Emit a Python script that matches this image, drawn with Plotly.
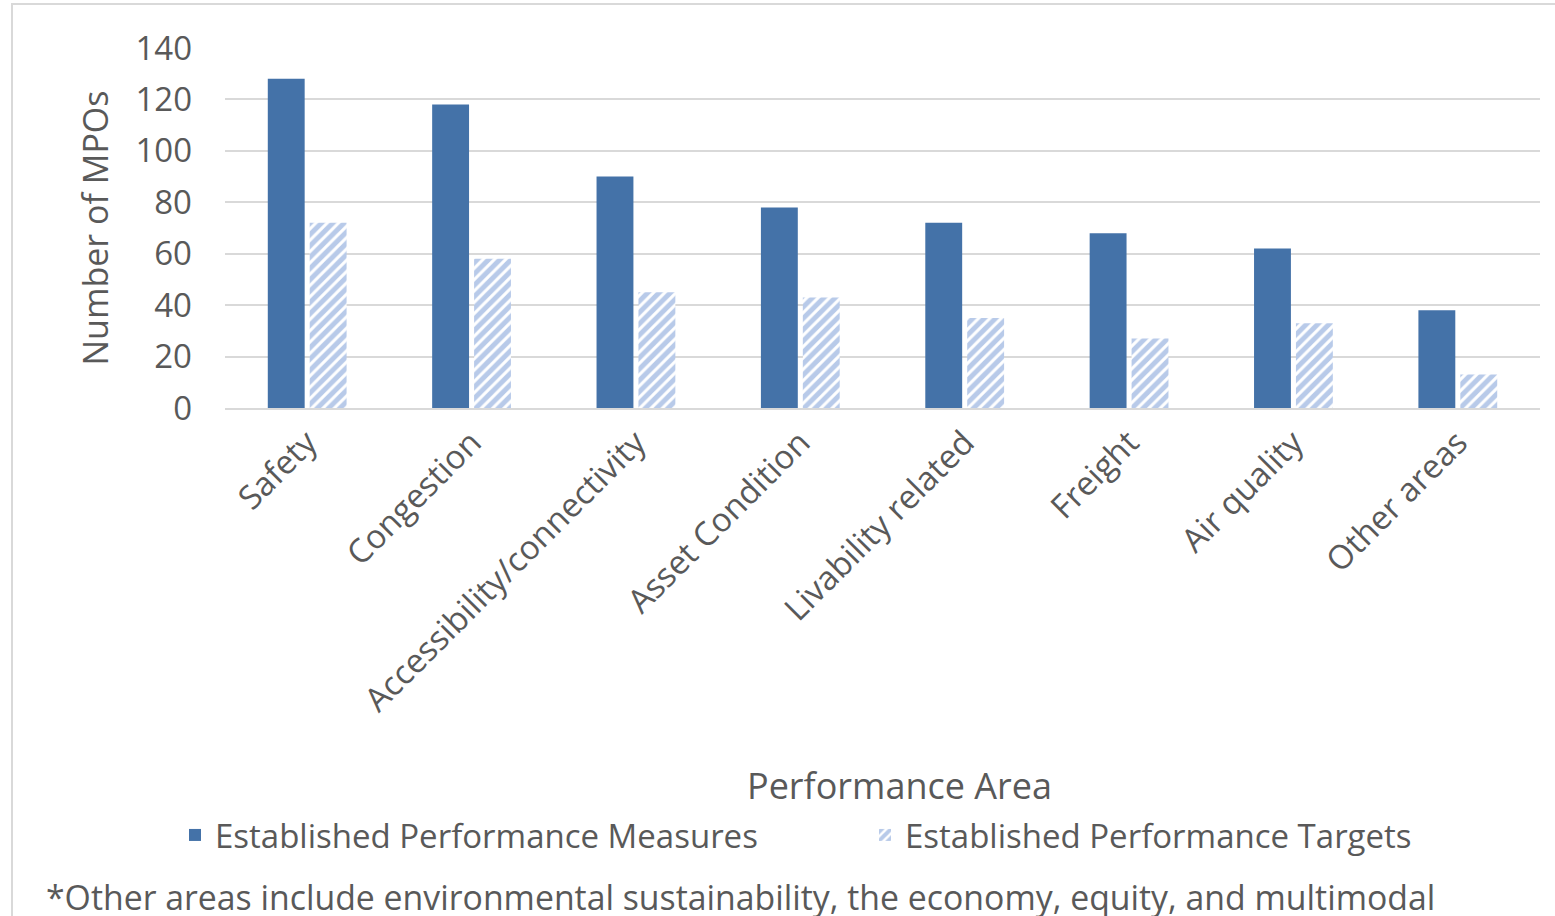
import plotly.graph_objects as go

categories = ["Safety", "Congestion", "Accessibility/connectivity", "Asset Condition",
              "Livability related", "Freight", "Air quality", "Other areas"]
measures = [128, 118, 90, 78, 72, 68, 62, 38]
targets = [72, 58, 45, 43, 35, 27, 33, 13]
y_ticks = [0, 20, 40, 60, 80, 100, 120, 140]

FONT = "Open Sans"
TXT = "#595959"
W, H = 1555, 916
L, R, T, B = 225, 15, 48, 508
pw, ph = W - L - R, H - T - B

def px(xp):
    return (xp - L) / pw

def py(yp):
    return (H - B - yp) / ph

fig = go.Figure()
fig.add_trace(go.Bar(
    x=categories, y=measures, name="Established Performance Measures",
    marker=dict(color="#4472a8", line=dict(width=0)),
))
fig.add_trace(go.Bar(
    x=categories, y=targets, name="Established Performance Targets",
    marker=dict(color="white", line=dict(width=0),
                pattern=dict(shape="/", fgcolor="#7196d3", bgcolor="white",
                             size=8, solidity=0.62)),
))

fig.update_layout(
    width=W, height=H,
    margin=dict(l=L, r=R, t=T, b=B),
    paper_bgcolor="white", plot_bgcolor="white",
    barmode="group", bargap=0.49, bargroupgap=0.12,
    font=dict(family=FONT, color=TXT, size=33),
    showlegend=True,
    legend=dict(orientation="h", x=px(204), xanchor="left",
                y=py(835), yanchor="middle",
                font=dict(size=33, color=TXT, family=FONT),
                itemwidth=30, entrywidth=645, tracegroupgap=0),
    xaxis=dict(
        showgrid=False, showline=True, linecolor="#d9d9d9", linewidth=2,
        ticks="", tickangle=-45, tickfont=dict(size=33, color=TXT, family=FONT),
    ),
    yaxis=dict(
        range=[0, 140], tickvals=y_ticks, showgrid=True, gridcolor="#d9d9d9",
        gridwidth=1.5, zeroline=False, showline=False, ticks="",
        ticklabelstandoff=32,
        tickfont=dict(size=33, color=TXT, family=FONT),
        title=dict(text="Number of MPOs", font=dict(size=34, color=TXT, family=FONT),
                   standoff=16),
    ),
    annotations=[
        dict(text="Performance Area", xref="paper", yref="paper",
             x=px(900), y=py(785), xanchor="center", yanchor="middle",
             showarrow=False, font=dict(size=36, color=TXT, family=FONT)),
        dict(text="*Other areas include environmental sustainability, the economy, equity, and multimodal",
             xref="paper", yref="paper", x=px(44), y=py(897), xanchor="left",
             yanchor="middle", showarrow=False,
             font=dict(size=33.8, color=TXT, family=FONT)),
    ],
    shapes=[
        dict(type="rect", xref="paper", yref="paper",
             x0=px(12), x1=px(1570), y0=py(930), y1=py(4),
             line=dict(color="#d9d9d9", width=2), fillcolor="rgba(0,0,0,0)",
             layer="below"),
    ],
)

fig.write_html("out.html")
